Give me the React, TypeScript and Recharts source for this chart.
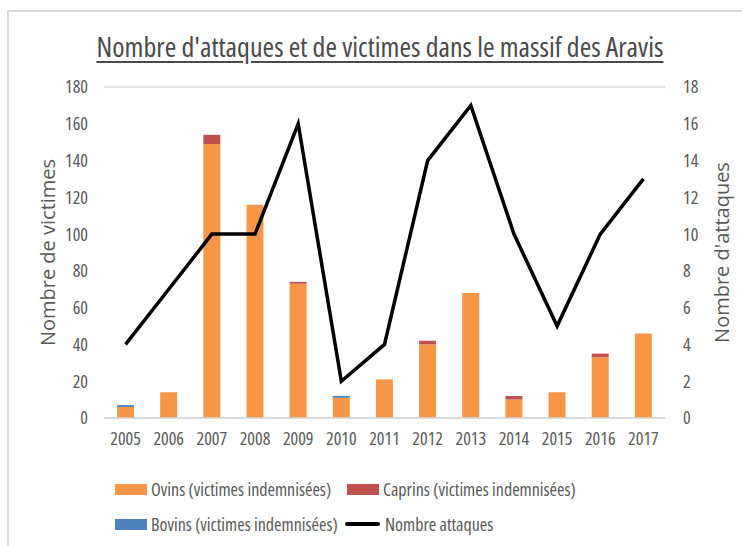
import {
	ComposedChart,
	Bar,
	Line,
	XAxis,
	YAxis,
	CartesianGrid,
} from "recharts"

const years = ["2005", "2006", "2007", "2008", "2009", "2010", "2011", "2012", "2013", "2014", "2015", "2016", "2017"]
const ovins = [6, 14, 149, 116, 73, 11, 21, 40, 68, 10, 14, 33, 46]
const caprins = [0, 0, 5, 0, 1, 0, 0, 2, 0, 2, 0, 2, 0]
const bovins = [1, 0, 0, 0, 0, 1, 0, 0, 0, 0, 0, 0, 0]
const attaques = [4, 7, 10, 10, 16, 2, 4, 14, 17, 10, 5, 10, 13]
const leftTicks = [0, 20, 40, 60, 80, 100, 120, 140, 160, 180]
const rightTicks = [0, 2, 4, 6, 8, 10, 12, 14, 16, 18]

const data = years.map((year, i) => ({
	year,
	ovins: ovins[i],
	caprins: caprins[i],
	bovins: bovins[i],
	attaques: attaques[i],
}))

const FONT = "'Open Sans', sans-serif"
const TEXT = "#595959"
const ORANGE = "#F79646"
const RED = "#C0504D"
const BLUE = "#4F81BD"

const tickStyle = { fill: TEXT, fontSize: 18, fontFamily: FONT, fontStretch: "condensed" }
// rotated titles: the squeeze of the original picture is across them, so not condensed
const axisTitle = { fill: TEXT, fontSize: 20, fontFamily: FONT, fontStretch: "normal", textAnchor: "middle" }

const legendItems = [
	{ label: "Ovins (victimes indemnisées)", color: ORANGE, type: "bar", x: 115, y: 489 },
	{ label: "Caprins (victimes indemnisées)", color: RED, type: "bar", x: 347, y: 489 },
	{ label: "Bovins (victimes indemnisées)", color: BLUE, type: "bar", x: 115, y: 524 },
	{ label: "Nombre attaques", color: "#000", type: "line", x: 345, y: 524 },
]

const App = () => {
	return (
		<div style={{ position: "absolute", left: 0, top: 0, width: 742, height: 546, background: "#fff", fontFamily: FONT, fontStretch: "condensed", overflow: "hidden" }}>
			<div style={{ position: "absolute", left: 7, top: 10, width: 760, height: 560, border: "2px solid #d9d9d9", boxSizing: "border-box" }} />
			<div style={{ position: "absolute", left: 0, width: 760, top: 27, textAlign: "center", fontSize: 28, lineHeight: "38px", color: "#4a4a4a", textDecoration: "underline", textUnderlineOffset: 4 }}>
				Nombre d'attaques et de victimes dans le massif des Aravis
			</div>
			<ComposedChart
				width={742}
				height={546}
				data={data}
				margin={{ top: 87, right: 0, bottom: 98, left: 0 }}
				style={{ position: "absolute", left: 0, top: 0 }}
			>
				<CartesianGrid vertical={false} stroke="#d9d9d9" strokeWidth={1.5} />
				<XAxis
					dataKey="year"
					tickLine={false}
					axisLine={{ stroke: "#d9d9d9", strokeWidth: 1.5 }}
					tick={tickStyle}
					tickMargin={8}
					interval={0}
				/>
				<YAxis
					yAxisId="left"
					width={104}
					domain={[0, 180]}
					ticks={leftTicks}
					tickLine={false}
					axisLine={false}
					tick={tickStyle}
					tickMargin={10}
					label={{ value: "Nombre de victimes", angle: -90, position: "insideLeft", offset: 48, style: axisTitle }}
				/>
				<YAxis
					yAxisId="right"
					orientation="right"
					width={77}
					domain={[0, 18]}
					ticks={rightTicks}
					tickLine={false}
					axisLine={false}
					tick={{ ...tickStyle, textAnchor: "start" }}
					tickMargin={12}
					label={{ value: "Nombre d'attaques", angle: -90, position: "insideRight", offset: 20, style: axisTitle }}
				/>
				<Bar yAxisId="left" dataKey="ovins" stackId="v" fill={ORANGE} barSize={17} isAnimationActive={false} />
				<Bar yAxisId="left" dataKey="caprins" stackId="v" fill={RED} barSize={17} isAnimationActive={false} />
				<Bar yAxisId="left" dataKey="bovins" stackId="v" fill={BLUE} barSize={17} isAnimationActive={false} />
				<Line yAxisId="right" dataKey="attaques" type="linear" stroke="#000" strokeWidth={3.5} dot={false} activeDot={false} isAnimationActive={false} />
			</ComposedChart>
			{legendItems.map((item) => (
				<div key={item.label} style={{ position: "absolute", left: item.x, top: item.y - 12, height: 24, display: "flex", alignItems: "center", fontSize: 18, color: TEXT, whiteSpace: "nowrap" }}>
					{item.type === "bar" ? (
						<span style={{ display: "inline-block", width: 32, height: 11, background: item.color, marginRight: 4 }} />
					) : (
						<span style={{ display: "inline-block", width: 35, height: 4, background: item.color, marginRight: 5, borderRadius: 2 }} />
					)}
					{item.label}
				</div>
			))}
		</div>
	)
}

export default App
